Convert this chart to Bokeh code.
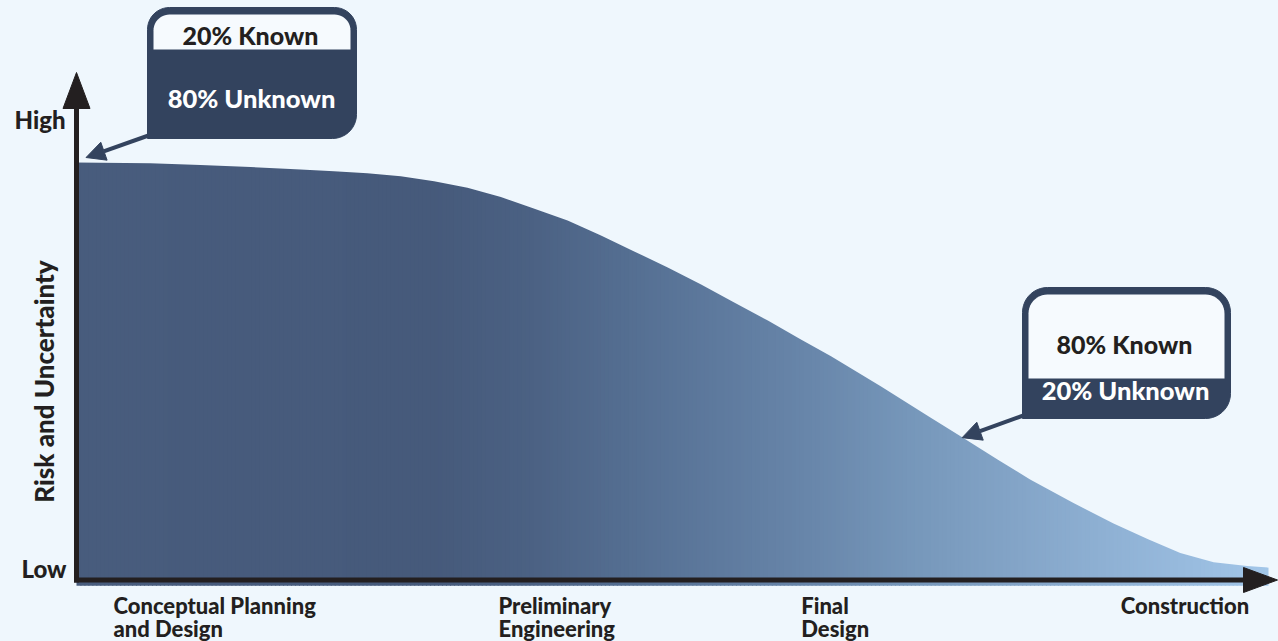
import numpy as np
from bokeh.plotting import figure
from bokeh.models import Range1d, Arrow, NormalHead, GlobalInlineStyleSheet
from bokeh.core.properties import value
from bokeh.embed import file_html
from bokeh.resources import INLINE

# ---------------- data ----------------
# project progress (0 = start of planning, 100 = construction) vs. risk & uncertainty (0 = low, 100 = high)
progress = [0, 6.2, 10.4, 14.6, 18.8, 21.6, 24.4, 27.2, 30.0, 32.8, 35.6, 38.3, 41.2,
            44.0, 46.7, 49.6, 52.4, 55.1, 58.0, 60.7, 63.3, 67.5, 71.6, 74.2, 77.3,
            80.0, 83.6, 87.0, 89.9, 92.6, 95.4, 98.2, 100]
risk = [100, 99.8, 99.4, 98.9, 98.3, 97.9, 97.4, 96.7, 95.5, 93.9, 91.7, 89.0, 86.0,
        82.4, 78.7, 74.7, 70.6, 66.4, 61.9, 57.5, 53.3, 46.0, 38.6, 34.0, 28.4,
        23.6, 18.0, 13.0, 9.2, 5.9, 3.7, 2.8, 2.4]

phase_labels = ["Conceptual Planning\nand Design", "Preliminary\nEngineering",
                "Final\nDesign", "Construction"]
phase_pos = [3.1, 35.4, 60.8, 87.6]

level_labels = ["High", "Low"]
y_title = "Risk and Uncertainty"

known_pct = [20, 80]
unknown_pct = [80, 20]
callout_tip_progress = [0.8, 74.3]
callout_tip_risk = [101.2, 33.7]

# ---------------- styles ----------------
W, H = 1278, 641
BG = "#EFF7FD"
DARK = "#33435E"
INK = "#231F20"
WHITE_PANEL = "#F6FAFE"
FONT = "Lato Heavy, Lato"
BASE_SHIFT = 0.37   # em; compensates where the renderer puts the alphabetic baseline

grad_p = [0, 30, 38, 46, 54, 62, 70, 78, 86, 94, 100]
grad_c = ["#485C7D", "#465A7B", "#4B6183", "#546E91", "#5E7A9E", "#6987AB",
          "#7697BA", "#82A3C6", "#8EB0D3", "#99BCDF", "#A3C7E9"]

# layout helpers: pixel position on the page -> data coordinates
PX0, PX100 = 76.0, 1268.0      # pixel x of progress 0 / 100
PY0, PY100 = 577.0, 162.0      # pixel y of risk 0 / 100
KX = (PX100 - PX0) / 100.0
KY = (PY0 - PY100) / 100.0
def DX(sx): return (sx - PX0) / KX
def DY(sy): return (PY0 - sy) / KY
def TY(sy, size): return DY(sy - BASE_SHIFT * size)

p = figure(width=W, height=H, output_backend="svg", toolbar_location=None,
           x_range=Range1d(DX(0), DX(W)), y_range=Range1d(DY(H), DY(0)),
           x_axis_location=None, y_axis_location=None, min_border=0,
           background_fill_color=BG, border_fill_color=BG, outline_line_color=None)
p.grid.visible = False
p.stylesheets = [GlobalInlineStyleSheet(css=f"html, body {{ background-color: {BG}; }}")]

# ---------------- gradient area ----------------
def hex2rgb(h):
    return [int(h[i:i + 2], 16) for i in (1, 3, 5)]
rgb = np.array([hex2rgb(c) for c in grad_c], float)
edges = np.linspace(0, 100, 301)
mids = (edges[:-1] + edges[1:]) / 2
cols = ["#%02x%02x%02x" % tuple(int(round(np.interp(m, grad_p, rgb[:, k]))) for k in range(3))
        for m in mids]
p.quad(left=edges[:-1], right=np.minimum(edges[1:] + 0.08, 100), bottom=-2, top=101.5,
       fill_color=cols, line_color=None)
# everything above the risk curve back to the page colour
p.varea(x=progress, y1=risk, y2=[103] * len(progress), fill_color=BG)
p.quad(left=[99.92], right=[DX(W)], bottom=[risk[-1]], top=[103], fill_color=BG, line_color=None)

# ---------------- axes with arrow heads ----------------
p.segment(x0=[DX(76)], y0=[DY(106)], x1=[DX(76)], y1=[DY(582)], line_width=5, line_color=INK)
p.patch(x=[DX(76), DX(62.5), DX(89.5)], y=[DY(72), DY(108), DY(108)],
        fill_color=INK, line_color=INK, line_width=1)
p.segment(x0=[DX(73.5)], y0=[DY(579.5)], x1=[DX(1246)], y1=[DY(579.5)], line_width=5, line_color=INK)
p.patch(x=[DX(1277), DX(1243), DX(1243)], y=[DY(579.5), DY(567), DY(592)],
        fill_color=INK, line_color=INK, line_width=1)

# ---------------- callouts ----------------
def rbox(x0, y0, x1, y1, rad):
    pts = []
    specs = [((x0, y0), (1, 1), 180, 270, rad[0]), ((x1, y0), (-1, 1), 270, 360, rad[1]),
             ((x1, y1), (-1, -1), 0, 90, rad[2]), ((x0, y1), (1, -1), 90, 180, rad[3])]
    for (px, py), (sgx, sgy), a0, a1, r in specs:
        if r <= 0:
            pts.append((px, py))
            continue
        ccx, ccy = px + sgx * r, py + sgy * r
        for a in np.linspace(np.radians(a0), np.radians(a1), 12):
            pts.append((ccx + r * np.cos(a), ccy + r * np.sin(a)))
    return [DX(x) for x, _ in pts], [DY(y) for _, y in pts]

outer_boxes = [(147, 7, 356, 138, (22, 22, 24, 0)), (1022, 287, 1230, 418, (25, 25, 25, 0))]
inner_boxes = [(153, 14, 350, 49, (16, 16, 0, 0)), (1028, 294, 1224, 378, (19, 19, 0, 0))]
ox, oy, ix, iy = [], [], [], []
for b in outer_boxes:
    xs, ys = rbox(*b)
    ox.append(xs); oy.append(ys)
for b in inner_boxes:
    xs, ys = rbox(*b)
    ix.append(xs); iy.append(ys)
p.patches(xs=ox, ys=oy, fill_color=DARK, line_color=DARK, line_width=1)
p.patches(xs=ix, ys=iy, fill_color=WHITE_PANEL, line_color=None)

arrow_starts = [(148, 135), (1023, 415)]
for (sx0, sy0), tp, tr in zip(arrow_starts, callout_tip_progress, callout_tip_risk):
    p.add_layout(Arrow(x_start=DX(sx0), y_start=DY(sy0), x_end=tp, y_end=tr,
                       line_color=DARK, line_width=4,
                       end=NormalHead(size=19, fill_color=DARK, line_color=DARK, line_width=1)))

font_kw = dict(text_font=value(FONT), text_font_style="bold", text_baseline="alphabetic")

CS = 25
p.text(x=[DX(250), DX(1124)], y=[TY(44, CS), TY(353, CS)],
       text=[f"{k}% Known" for k in known_pct],
       text_align="center", text_font_size=f"{CS}px", text_color=INK, **font_kw)
p.text(x=[DX(251), DX(1125)], y=[TY(107, CS), TY(399, CS)],
       text=[f"{u}% Unknown" for u in unknown_pct],
       text_align="center", text_font_size=f"{CS + 0.5}px", text_color="#FFFFFF", **font_kw)

# ---------------- axis texts ----------------
LS = 24
p.text(x=[DX(65), DX(66)], y=[TY(128, LS), TY(577, LS)], text=level_labels,
       text_align="right", text_font_size=f"{LS}px", text_color=INK, **font_kw)
RS = 26
p.text(x=[DX(53 - BASE_SHIFT * RS)], y=[DY(381)], text=[y_title], angle=np.pi / 2,
       text_align="center", text_font_size=f"{RS}px", text_color=INK, **font_kw)

PS = 22
line1 = [s.split("\n")[0] for s in phase_labels]
line2 = [s.split("\n")[1] if "\n" in s else "" for s in phase_labels]
p.text(x=phase_pos, y=[TY(613, PS)] * len(phase_pos), text=line1,
       text_align="left", text_font_size=f"{PS}px", text_color=INK, **font_kw)
p.text(x=phase_pos, y=[TY(636, PS)] * len(phase_pos), text=line2,
       text_align="left", text_font_size=f"{PS}px", text_color=INK, **font_kw)

open("out.html", "w").write(file_html(p, INLINE))
